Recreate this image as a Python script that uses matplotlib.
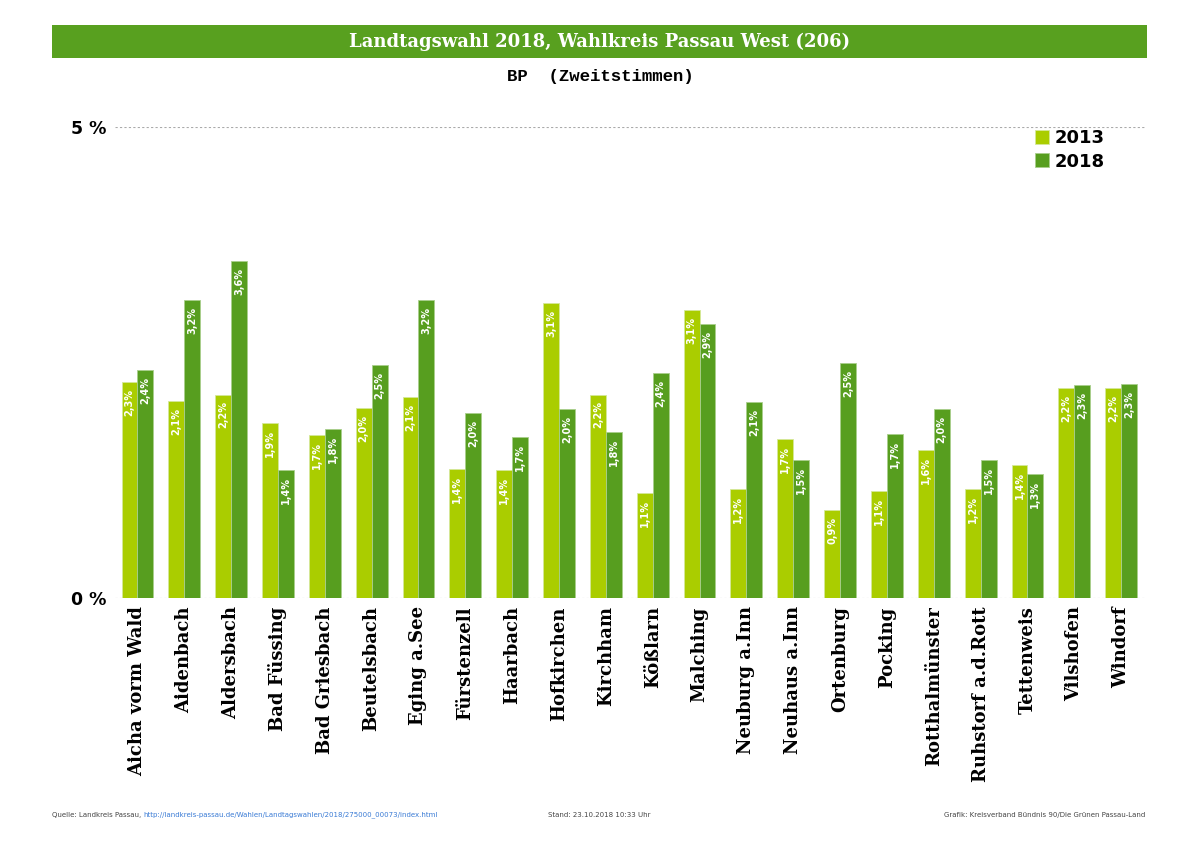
import numpy as np
import matplotlib.pyplot as plt
from matplotlib.patches import Rectangle

## data
gemeinden = ['Aicha vorm Wald', 'Aidenbach', 'Aldersbach', 'Bad Füssing', 'Bad Griesbach',
             'Beutelsbach', 'Eging a.See', 'Fürstenzell', 'Haarbach', 'Hofkirchen',
             'Kirchham', 'Kößlarn', 'Malching', 'Neuburg a.Inn', 'Neuhaus a.Inn',
             'Ortenburg', 'Pocking', 'Rotthalmünster', 'Ruhstorf a.d.Rott', 'Tettenweis',
             'Vilshofen', 'Windorf']
bp_2013 = [2.29, 2.09, 2.16, 1.86, 1.73, 2.02, 2.13, 1.37, 1.36, 3.13, 2.16,
           1.11, 3.06, 1.16, 1.69, 0.93, 1.14, 1.57, 1.16, 1.41, 2.23, 2.23]
bp_2018 = [2.42, 3.16, 3.58, 1.36, 1.79, 2.47, 3.16, 1.96, 1.71, 2.01, 1.76,
           2.39, 2.91, 2.08, 1.46, 2.49, 1.74, 2.01, 1.46, 1.32, 2.26, 2.27]
jahre = ['2013', '2018']

## styles
col_13 = '#aacd00'
col_18 = '#579e1f'
slab = 'DejaVu Serif'

fig = plt.figure(figsize=(12, 8.48), dpi=100)
ax = fig.add_axes([0.0958, 0.2948, 0.858, 0.5554])

x = np.arange(len(gemeinden))
w = 0.34
b1 = ax.bar(x - w/2, bp_2013, w, color=col_13, edgecolor='#d4e89a', lw=0.6, label=jahre[0], zorder=3)
b2 = ax.bar(x + w/2, bp_2018, w, color=col_18, edgecolor='#a9cf8c', lw=0.6, label=jahre[1], zorder=3)

for bars, vals in [(b1, bp_2013), (b2, bp_2018)]:
    for r, v in zip(bars, vals):
        txt = ('%.1f' % v).replace('.', ',') + '%'
        ax.annotate(txt, (r.get_x() + r.get_width()/2, v), xytext=(0, -5),
                    textcoords='offset points', rotation=90, ha='center', va='top',
                    color='white', fontsize=7, fontweight='bold', zorder=4)

ax.set_xlim(-0.48, len(gemeinden) - 0.5)
ax.set_ylim(0, 5)
ax.axhline(5, color='#aaaaaa', ls=(0, (2, 2)), lw=0.8, zorder=1)
ax.axhline(0, color='#aaaaaa', ls=(0, (2, 2)), lw=0.8, zorder=1)
for s in ax.spines.values():
    s.set_visible(False)

ax.set_yticks([0, 5])
ax.set_yticklabels(['0 %', '5 %'], fontsize=12.5, fontweight='bold')
ax.tick_params(axis='y', length=0, pad=6)
ax.set_xticks(x)
ax.set_xticklabels(gemeinden, rotation=90, fontsize=13, fontweight='bold', family=slab)
ax.tick_params(axis='x', length=0, pad=6)

leg = ax.legend(loc='upper right', bbox_to_anchor=(0.977, 1.03), frameon=False,
                prop={'weight': 'heavy', 'size': 13}, handlelength=0.8, handleheight=0.8,
                handletextpad=0.3, labelspacing=0.3)

## title banner
fig.patches.append(Rectangle((52/1200, 1 - 58/848), 1095/1200, 33/848, transform=fig.transFigure,
                             facecolor='#58a01f', edgecolor='none'))
fig.text(0.5, 1 - 42/848, 'Landtagswahl 2018, Wahlkreis Passau West (206)', ha='center', va='center',
         color='white', fontsize=13, fontweight='bold', family=slab)
fig.text(0.5, 1 - 77/848, 'BP  (Zweitstimmen)', ha='center', va='center',
         fontsize=12.5, fontweight='bold', family='Liberation Mono')

## footer
fy = 1 - 815/848
t = fig.text(52/1200, fy, 'Quelle: Landkreis Passau, ', fontsize=5, color='#444444', va='center')
fig.canvas.draw()
bb = t.get_window_extent()
fig.text(bb.x1/1200, fy, 'http://landkreis-passau.de/Wahlen/Landtagswahlen/2018/275000_00073/index.html',
         fontsize=5, color='#3a7bd5', va='center')
fig.text(548/1200, fy, 'Stand: 23.10.2018 10:33 Uhr', fontsize=5, color='#444444', va='center')
fig.text(1145/1200, fy, 'Grafik: Kreisverband Bündnis 90/Die Grünen Passau-Land', fontsize=5,
         color='#444444', va='center', ha='right')

plt.savefig('out.png', dpi=100)
